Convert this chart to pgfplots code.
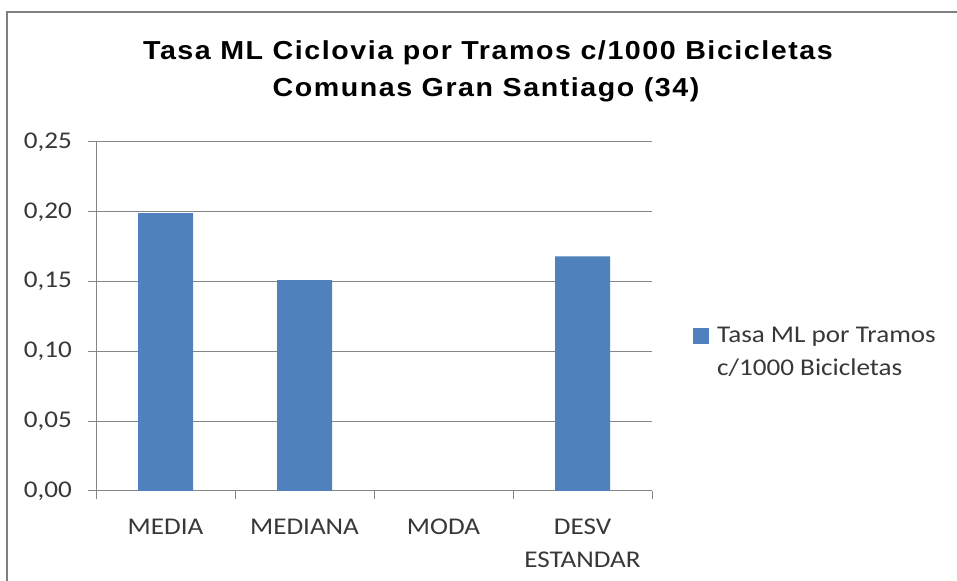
\documentclass[border=0pt]{standalone}
\usepackage{fontspec}
\setmainfont{Carlito}[FakeStretch=1.13]
\newfontfamily\titlefont{Liberation Sans}[FakeStretch=1.1,LetterSpace=6]
\usepackage{pgfplots}
\pgfplotsset{compat=1.18}
\definecolor{barblue}{HTML}{4F81BD}
\definecolor{gridgray}{HTML}{868686}
\definecolor{bordergray}{HTML}{7F7F7F}
\begin{document}
\begin{tikzpicture}[x=1bp,y=1bp]
\useasboundingbox (0,0) rectangle (957,581);
\fill[white] (0,0) rectangle (957,581);
\draw[bordergray, line width=2bp] (7,-5) -- (7,569) -- (965,569);
\begin{axis}[
  at={(96bp,90bp)}, anchor=south west,
  width=556bp, height=349bp, scale only axis,
  xmin=-0.5, xmax=3.5, ymin=0, ymax=0.25,
  axis x line*=bottom, axis y line*=left,
  axis line style={gridgray, line width=1bp},
  ybar, bar width=55bp,
  ytick={0,0.05,0.10,0.15,0.20,0.25},
  yticklabels={{0,00},{0,05},{0,10},{0,15},{0,20},{0,25}},
  ymajorgrids, major grid style={gridgray, line width=1bp},
  tick align=outside, major tick length=8bp, minor tick length=8bp,
  tick style={gridgray, line width=1bp},
  xtick={0,1,2,3},
  xticklabels={MEDIA,MEDIANA,MODA,{DESV\\ESTANDAR}},
  major x tick style={draw=none},
  minor xtick={-0.5,0.5,1.5,2.5,3.5},
  minor x tick style={gridgray, line width=1bp},
  tick label style={font=\fontsize{24bp}{33bp}\selectfont, text=black!78},
  yticklabel style={anchor=east, inner sep=0pt, xshift=-16bp},
  xticklabel style={align=center, anchor=north, inner sep=0pt, yshift=-20bp},
  legend style={at={(1.0737,0.398)}, anchor=west, draw=none, fill=none,
    inner sep=0pt, font=\fontsize{24bp}{33bp}\selectfont,
    cells={align=left, anchor=west}, text=black!78},
  legend image code/.code={\path[draw=none, fill=none] (0bp,-24.5bp) rectangle (22bp,24.5bp);
    \fill[barblue] (0bp,8.5bp) rectangle (16bp,24.5bp);},
]
\addplot[fill=barblue, draw=none] coordinates {(0,0.199) (1,0.151) (2,0) (3,0.168)};
\addlegendentry{Tasa ML por Tramos\\c/1000 Bicicletas}
\end{axis}
\node[anchor=base, font=\titlefont\bfseries\fontsize{26bp}{30bp}\selectfont, text=black] at (488,521) {Tasa ML Ciclovia por Tramos c/1000 Bicicletas};
\node[anchor=base, font=\titlefont\bfseries\fontsize{26bp}{30bp}\selectfont, text=black] at (486,484) {Comunas Gran Santiago (34)};
\end{tikzpicture}
\end{document}
